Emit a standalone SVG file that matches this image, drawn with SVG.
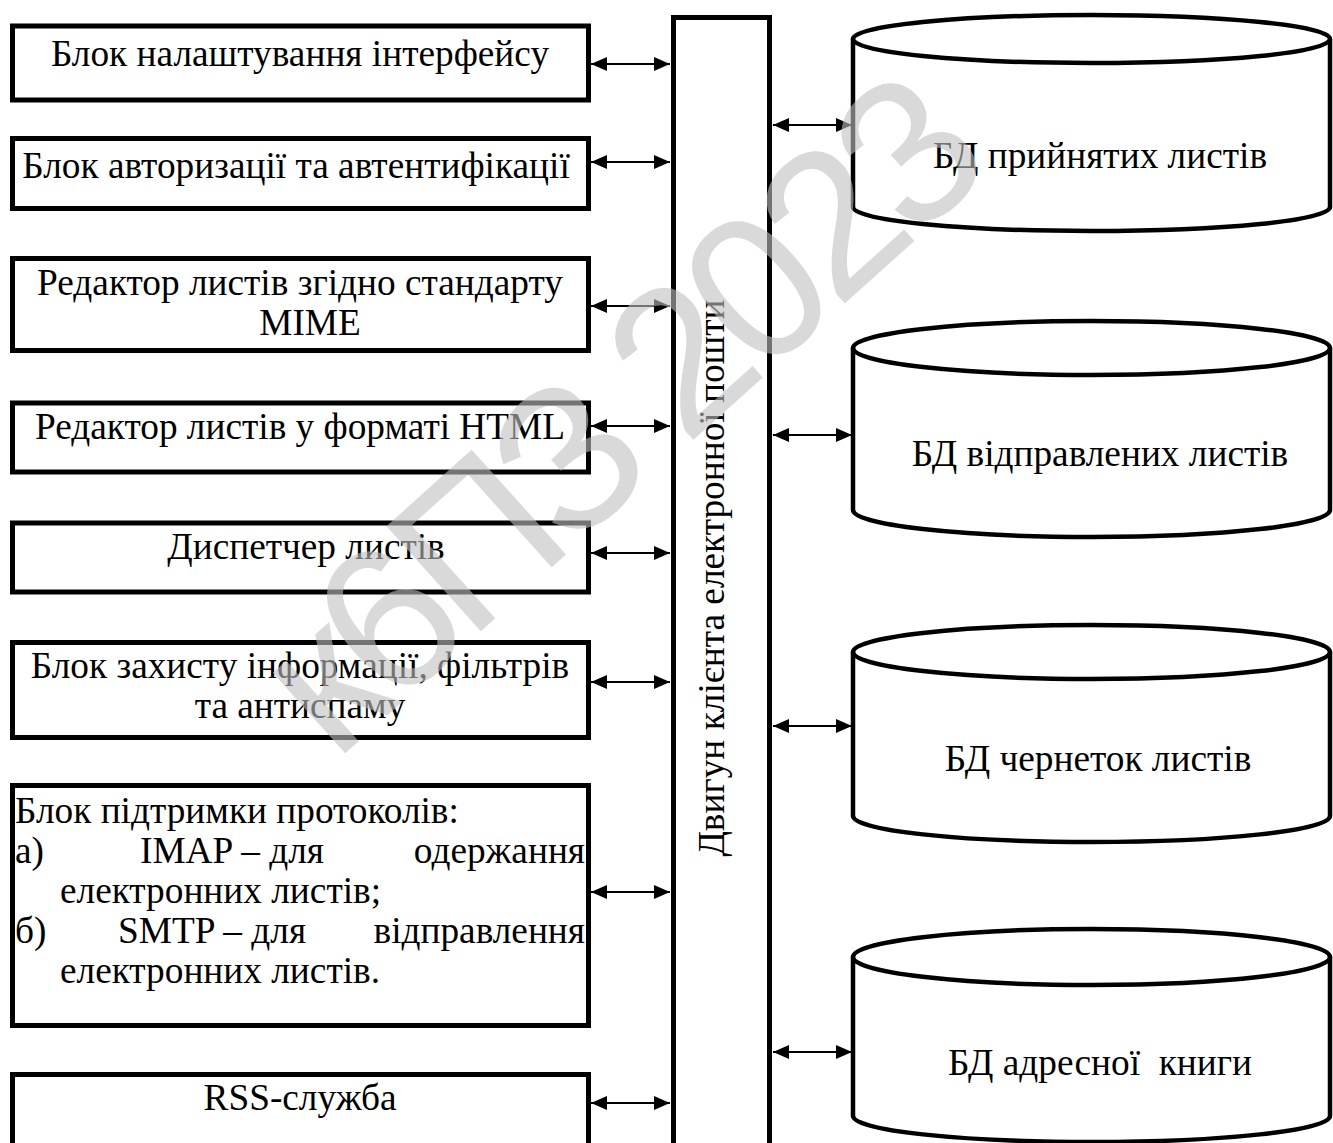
<svg xmlns="http://www.w3.org/2000/svg" width="1333" height="1143" viewBox="0 0 1333 1143">
  <defs>
    <marker id="ah" viewBox="0 0 16 14" refX="16" refY="7" markerWidth="16" markerHeight="14" markerUnits="userSpaceOnUse" orient="auto-start-reverse">
      <path d="M0,0 L16,7 L0,14 Z" fill="#000"/>
    </marker>
    <style>
      .box { fill: #fff; stroke: #000; stroke-width: 5; }
      .can { fill: #fff; stroke: #000; stroke-width: 4.5; }
      .lbl { font-family: "Liberation Serif", "Times New Roman", serif; font-size: 37.3px; fill: #000; }
      .mid { text-anchor: middle; }
      .end { text-anchor: end; }
      .pre { white-space: pre; }
      .link { stroke: #000; stroke-width: 2; fill: none; marker-start: url(#ah); marker-end: url(#ah); }
      .wm { font-family: "Liberation Sans", Arial, sans-serif; font-size: 205px; letter-spacing: -12px; fill: #c0c0c0; opacity: 0.6; text-anchor: middle; }
    </style>
  </defs>
  <rect width="1333" height="1143" fill="#fff"/>

  <!-- left-hand function blocks -->
  <g id="ui-settings">
    <rect class="box" x="12.5" y="26" width="576" height="74"/>
    <text class="lbl mid" x="300" y="66">Блок налаштування інтерфейсу</text>
  </g>
  <g id="auth">
    <rect class="box" x="12.5" y="138.5" width="576" height="70"/>
    <text class="lbl mid" x="296" y="178">Блок авторизації та автентифікації</text>
  </g>
  <g id="mime-editor">
    <rect class="box" x="12.5" y="258.5" width="576" height="92"/>
    <text class="lbl mid" x="300" y="295">Редактор листів згідно стандарту</text>
    <text class="lbl mid" x="310" y="335">MIME</text>
  </g>
  <g id="html-editor">
    <rect class="box" x="12.5" y="403" width="576" height="69"/>
    <text class="lbl mid" x="300" y="439">Редактор листів у форматі HTML</text>
  </g>
  <g id="dispatcher">
    <rect class="box" x="12.5" y="523" width="576" height="69"/>
    <text class="lbl mid" x="306" y="559">Диспетчер листів</text>
  </g>
  <g id="protection">
    <rect class="box" x="12.5" y="642.5" width="576" height="95"/>
    <text class="lbl mid" x="300" y="678">Блок захисту інформації, фільтрів</text>
    <text class="lbl mid" x="300" y="718">та антиспаму</text>
  </g>
  <g id="protocols">
    <rect class="box" x="12.5" y="785.5" width="576" height="240"/>
    <text class="lbl" x="15" y="823">Блок підтримки протоколів:</text>
    <text class="lbl" x="15" y="863">а)</text>
    <text class="lbl" x="140" y="863">IMAP – для</text>
    <text class="lbl end" x="585" y="863">одержання</text>
    <text class="lbl" x="60" y="903">електронних листів;</text>
    <text class="lbl" x="15" y="943">б)</text>
    <text class="lbl" x="118" y="943">SMTP – для</text>
    <text class="lbl end" x="585" y="943">відправлення</text>
    <text class="lbl" x="60" y="983">електронних листів.</text>
  </g>
  <g id="rss">
    <rect class="box" x="12.5" y="1074.5" width="576" height="90"/>
    <text class="lbl mid" x="300" y="1110">RSS-служба</text>
  </g>

  <!-- mail client engine -->
  <g id="engine">
    <rect class="box" x="673.5" y="17.5" width="96" height="1150"/>
    <text class="lbl mid" transform="translate(724,578) rotate(-90)">Двигун клієнта електронної пошти</text>
  </g>

  <!-- databases -->
  <g id="db-received">
    <path class="can" d="M853,39 V207 A238.5,24 0 0 0 1330,207 V39"/>
    <ellipse class="can" cx="1091.5" cy="39" rx="238.5" ry="24"/>
    <text class="lbl mid" x="1100" y="168">БД прийнятих листів</text>
  </g>
  <g id="db-sent">
    <path class="can" d="M853,348 V510 A238.5,27 0 0 0 1330,510 V348"/>
    <ellipse class="can" cx="1091.5" cy="348" rx="238.5" ry="27"/>
    <text class="lbl mid" x="1100" y="466">БД відправлених листів</text>
  </g>
  <g id="db-drafts">
    <path class="can" d="M853,652 V816 A238.5,26 0 0 0 1330,816 V652"/>
    <ellipse class="can" cx="1091.5" cy="652" rx="238.5" ry="27"/>
    <text class="lbl mid" x="1098" y="771">БД чернеток листів</text>
  </g>
  <g id="db-contacts">
    <path class="can" d="M853,957 V1116 A238.5,26 0 0 0 1330,1116 V957"/>
    <ellipse class="can" cx="1091.5" cy="957" rx="238.5" ry="28"/>
    <text class="lbl mid pre" x="1100" y="1075">БД адресної  книги</text>
  </g>

  <!-- two-way links -->
  <g id="links">
    <path class="link" d="M591,64 H670"/>
    <path class="link" d="M591,162 H670"/>
    <path class="link" d="M591,306 H670"/>
    <path class="link" d="M591,426 H670"/>
    <path class="link" d="M591,553 H670"/>
    <path class="link" d="M591,682 H670"/>
    <path class="link" d="M591,892 H670"/>
    <path class="link" d="M591,1103 H670"/>
    <path class="link" d="M773,125 H852"/>
    <path class="link" d="M773,435 H852"/>
    <path class="link" d="M773,726 H852"/>
    <path class="link" d="M773,1052 H852"/>
  </g>

  <!-- watermark -->
  <text class="wm" transform="translate(662,468) rotate(-42)">к6ПЗ 2023</text>
</svg>
